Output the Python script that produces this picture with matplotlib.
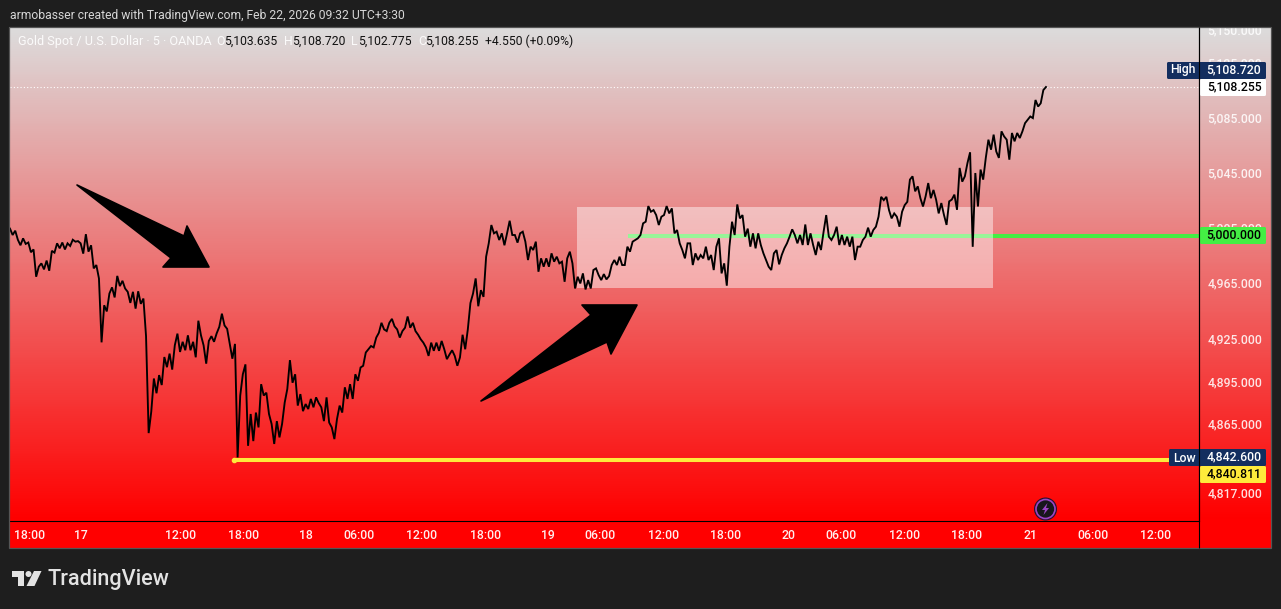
import matplotlib
matplotlib.use('Agg')
import matplotlib.pyplot as plt
from matplotlib.colors import LinearSegmentedColormap
from matplotlib.patches import Rectangle, FancyBboxPatch, Polygon, Circle
from matplotlib.ticker import NullLocator
import numpy as np

W, H = 1281, 609
BG = '#1e1e1e'
FONT = 'Roboto'
TXT = 8.8

closes = [
    5005, 5000.4, 5003.5, 4997, 4993, 4998, 4994, 4995, 4988, 4990, 4970.4, 4977.6, 4980, 4975.7, 4982, 4974.7,
    4989, 4987.7, 4994.4, 4990.8, 4995, 4990, 4994.4, 4992.5, 4997, 4995.6, 4996, 4994.4, 4987, 5001, 4988.4, 4993,
    4976.4, 4978.8, 4969.2, 4923.6, 4950, 4945.6, 4958.4, 4962.8, 4955.6, 4971, 4963.7, 4967.5, 4962, 4959.6,
    4951.7, 4959.6, 4947.6, 4960, 4951, 4954.8, 4928, 4859.6, 4874.7, 4898, 4887.6, 4900.4, 4893.4, 4913.2, 4906,
    4915.6, 4904.3, 4921.5, 4929.8, 4916.8, 4924, 4918, 4928.6, 4918, 4924, 4913, 4939, 4928.6, 4921.5, 4908.5,
    4924.6, 4928, 4924, 4930, 4934.6, 4944, 4935.6, 4933.2, 4922.5, 4912, 4922.5, 4842.6, 4885.9, 4901, 4908,
    4850.7, 4873, 4854, 4874, 4863.6, 4894, 4886, 4888, 4873, 4866, 4852, 4868, 4856.6, 4866, 4881, 4890.6, 4911,
    4895, 4901, 4878.9, 4887, 4875, 4880, 4876.5, 4883.6, 4877.7, 4884.7, 4880.7, 4877.7, 4868, 4884.7, 4867,
    4863.6, 4855.4, 4869.5, 4878.9, 4874, 4891.8, 4883.6, 4894, 4883.6, 4901, 4896.4, 4905.8, 4907, 4916.4, 4918.7,
    4921, 4920, 4927, 4930.4, 4937.5, 4932.8, 4931.6, 4937.5, 4940.3, 4935, 4932.8, 4927, 4931.6, 4934, 4942, 4934,
    4937.5, 4931.6, 4929, 4925.8, 4923.4, 4920, 4914, 4923.4, 4917.6, 4923.4, 4917.6, 4924.6, 4918.7, 4911.7, 4915,
    4918, 4914, 4907, 4912.9, 4929, 4918.7, 4932.8, 4951.6, 4958.4, 4969.2, 4949.3, 4960.8, 4956, 4984.8, 4994.4,
    5007.6, 5001.6, 5002.8, 4996.8, 5001.6, 4993, 5001.6, 5010.7, 5000.4, 5000.4, 4994.9, 5001.6, 5002.8, 4995.6,
    4982.4, 4992, 4989.6, 4995.6, 4974, 4983.6, 4977.6, 4983.6, 4977.6, 4987.2, 4981.2, 4984.8, 4980, 4981.2, 4966.8,
    4983.6, 4988.4, 4980, 4962, 4970.4, 4965.6, 4972.8, 4961.3, 4968, 4962, 4975.2, 4976.4, 4971.6, 4968, 4972.3,
    4968.5, 4970.9, 4978.8, 4982.4, 4978.8, 4984.8, 4978.8, 4978.8, 4992, 4988.4, 4995.6, 4996.8, 4998, 5000.4,
    5008.8, 5010, 5021.3, 5017.2, 5018.4, 5014.8, 5007.6, 5013.6, 5014.8, 5021.3, 5016, 5019.6, 5001.6, 5004, 4994.4,
    4989.6, 4983.6, 4994.4, 4994.4, 4978.8, 4987.2, 4982.4, 4986, 4983.6, 4992, 4982.4, 4986, 4975.2, 4992, 4998,
    4972.8, 4980, 4964, 4992, 5010, 5000.4, 5022.5, 5012.4, 5014.8, 4999.2, 5005, 4992, 5001.6, 4990.8, 5001.6, 4993.2,
    4987.2, 4982.4, 4977.6, 4975.2, 4987.2, 4989.6, 4979.3, 4986, 4990.8, 4994.4, 4999.2, 5004.5, 5000.4, 4994.4,
    5000.4, 4993.2, 5008, 4993.2, 5001.6, 4993.2, 4986, 4995.6, 4989.6, 5002.8, 5014.8, 4999.2, 4996.8, 5000.4, 5006.4,
    4993.2, 5000.4, 4993.2, 4999.2, 4992, 4999.2, 4982.4, 4992, 4992, 4996.8, 4999.2, 5005.7, 4999.2, 5004, 5006.4,
    5013.6, 5028, 5025.6, 5028, 5018.4, 5012.4, 5016, 5013.6, 5006.4, 5017.2, 5022, 5024.4, 5040.5, 5042.9, 5032,
    5035.6, 5027, 5021, 5028.4, 5038, 5027, 5033, 5026, 5016, 5023.5, 5015, 5007.7, 5024.7, 5026, 5029.6, 5018.6, 5049,
    5039, 5042.9, 5052.6, 5060.4, 4991.9, 5045.3, 5021, 5047.8, 5040.5, 5056.3, 5069.6, 5062.3, 5073.3, 5061, 5056.3,
    5075.7, 5072, 5069.6, 5055, 5074.5, 5068.4, 5074.5, 5070.8, 5075.7, 5081.7, 5084.2, 5086.6, 5085.4, 5098.7, 5093.9,
    5096.3, 5106, 5108.255,
]

x_tick_bars = [22, 81, 196, 268, 339, 400, 472, 545, 617, 677, 749, 821, 893, 953, 1026, 1097, 1170, 1242, 1314]
x_tick_labels = ['18:00', '17', '12:00', '18:00', '18', '06:00', '12:00', '18:00', '19', '06:00', '12:00', '18:00',
                 '20', '06:00', '12:00', '18:00', '21', '06:00', '12:00']
y_ticks = [5150, 5125, 5085, 5045, 5005, 4965, 4925, 4895, 4865, 4817]

last_close = 5108.255
sr_level = 5000.0
low_line = 4840.811
range_top, range_bottom = 5020.5, 4962.3
range_start, range_end = 650, 1127
green_start, yellow_start = 709, 257

fig = plt.figure(figsize=(W / 100, H / 100), dpi=100, facecolor=BG)


def box(x0, y0, x1, y1):
    return [x0 / W, 1 - y1 / H, (x1 - x0) / W, (y1 - y0) / H]


# gradient panel behind everything
bg = fig.add_axes(box(9, 27, 1271, 548), zorder=0)
cmap = LinearSegmentedColormap.from_list('panel', ['#dcdcdc', '#ff0000'])
grad = np.clip(np.linspace(0, 521 / 494, 260), 0, 1).reshape(-1, 1)
bg.imshow(grad, cmap=cmap, vmin=0, vmax=1, aspect='auto', interpolation='bilinear')
bg.axis('off')

# price chart
ax = fig.add_axes(box(10, 28, 1199, 521), zorder=1)
ax.patch.set_alpha(0)
ax.set_yscale('log')
ax.set_xlim(0, 1363.5)
ax.set_ylim(4798.4, 5151.9)

ax.hlines(sr_level, green_start, 1363.5, color='#44ee44', lw=2.9, zorder=2)
ax.add_patch(Rectangle((range_start, range_bottom), range_end - range_start, range_top - range_bottom,
                       facecolor='white', alpha=0.45, lw=0, zorder=3))
ax.plot(yellow_start, low_line, 'o', ms=3, color='#ffeb3b', zorder=2)
ax.hlines(low_line, yellow_start, 1363.5, color='#ffeb3b', lw=2.9, zorder=2)
ax.hlines(last_close, 0, 1363.5, color='white', lw=0.8, linestyles=(0, (1, 2)), zorder=2)
ax.plot(np.arange(len(closes)) * 3, closes, color='black', lw=1.35, solid_joinstyle='miter', zorder=4)

ax.yaxis.tick_right()
ax.set_yticks(y_ticks, labels=[f'{v:,.3f}' for v in y_ticks])
ax.yaxis.set_minor_locator(NullLocator())
ax.set_xticks(x_tick_bars, labels=x_tick_labels)
ax.tick_params(axis='y', length=0, pad=6.0, labelsize=TXT, labelcolor='#ffffffdd')
ax.tick_params(axis='x', length=0, pad=6.0, labelsize=TXT, labelcolor='#ffffffee')
for lab in ax.get_xticklabels() + ax.get_yticklabels():
    lab.set_fontfamily(FONT)
    lab.set_fontweight('medium')
for lab in ax.get_yticklabels():
    lab.set_verticalalignment('center')
for side in ['top', 'left']:
    ax.spines[side].set_visible(False)
for side in ['bottom', 'right']:
    ax.spines[side].set_color('black')
    ax.spines[side].set_linewidth(0.8)

# overlay in pixel coordinates for the chart furniture
ov = fig.add_axes([0, 0, 1, 1], zorder=2)
ov.patch.set_alpha(0)
ov.set_xlim(0, W)
ov.set_ylim(H, 0)
ov.axis('off')

ov.add_patch(Rectangle((0, 0), W, 27, facecolor=BG, lw=0, zorder=1))
ov.add_patch(Rectangle((9, 27), 1262, 521, facecolor='none', edgecolor='#555555', lw=0.9, zorder=2))


def arrow(points):
    ov.add_patch(Polygon(points, closed=True, facecolor='black', edgecolor='black', lw=1.2, joinstyle='round', zorder=2))


arrow([(77, 185), (184, 236), (187, 226), (209, 267), (163, 267), (171, 258)])
arrow([(481, 401), (591, 315), (582, 305), (637, 305), (611, 354), (607, 342)])


def label_box(x0, y0, x1, y1, color):
    ov.add_patch(FancyBboxPatch((x0 + 1, y0 + 1), x1 - x0 - 2, y1 - y0 - 2, boxstyle='round,pad=1,rounding_size=1.5',
                                facecolor=color, edgecolor='none', zorder=3))


def value_text(x, y, s, color, ha='center', size=TXT, weight='medium'):
    ov.text(x, y, s, color=color, ha=ha, va='center', fontsize=size, family=FONT, fontweight=weight, zorder=5)


NAVY = '#132e5f'
label_box(1167, 62, 1266, 79, NAVY)
label_box(1200, 79, 1266, 96, 'white')
label_box(1200, 227, 1266, 244, '#44ee44')
label_box(1169, 449, 1266, 466, NAVY)
label_box(1200, 466, 1266, 483, '#ffeb3b')
ov.vlines(1199, 27, 548, color='black', lw=0.8, zorder=4)

value_text(1183, 70, 'High', 'white')
value_text(1234, 70, '5,108.720', 'white')
value_text(1234, 87, '5,108.255', 'black')
value_text(1234, 235, '5,000.000', 'black')
value_text(1184, 458, 'Low', 'white')
value_text(1234, 457, '4,842.600', 'white')
value_text(1234, 474, '4,840.811', 'black')

# header and legend
value_text(10, 15, 'armobasser created with TradingView.com, Feb 22, 2026 09:32 UTC+3:30', '#d6d6d6', ha='left', size=8.75, weight='normal')
value_text(18, 41.5, 'Gold Spot / U.S. Dollar · 5 · OANDA', '#ffffffe6', ha='left', size=9.1, weight='normal')
for x, letter in [(216, 'O'), (284, 'H'), (351, 'L'), (418, 'C')]:
    value_text(x, 41.5, letter, '#ffffffe6', ha='left', size=8.8, weight='normal')
for x, val in [(224, '5,103.635'), (292, '5,108.720'), (358, '5,102.775'), (425, '5,108.255'), (485, '+4.550 (+0.09%)')]:
    value_text(x, 41.5, val, '#111111', ha='left', size=8.7, weight='normal')

# lightning badge
ov.add_patch(Circle((1045.5, 509), 11.5, facecolor='#2a1030', edgecolor='none', zorder=3))
ov.add_patch(Circle((1045.5, 509), 9.5, facecolor='#17171c', edgecolor='#9b45c4', lw=1.2, zorder=3))
ov.add_patch(Polygon([(1047.5, 503), (1042, 510), (1045, 510), (1043.5, 515), (1049, 508), (1046, 508)],
                     closed=True, facecolor='#9b45c4', lw=0, zorder=4))

# TradingView logo
LOGO = '#e3e3e3'
ov.add_patch(Polygon([(12, 571), (24, 571), (24, 586), (18, 586), (18, 577), (12, 577)], closed=True, facecolor=LOGO, lw=0))
ov.add_patch(Circle((28.5, 574), 3, facecolor=LOGO, lw=0))
ov.add_patch(Polygon([(34, 571), (41.5, 571), (34.5, 586), (26.5, 586)], closed=True, facecolor=LOGO, lw=0))
value_text(48, 579, 'TradingView', LOGO, ha='left', size=15.6, weight='medium')

fig.savefig('out.png', dpi=100, facecolor=BG)
